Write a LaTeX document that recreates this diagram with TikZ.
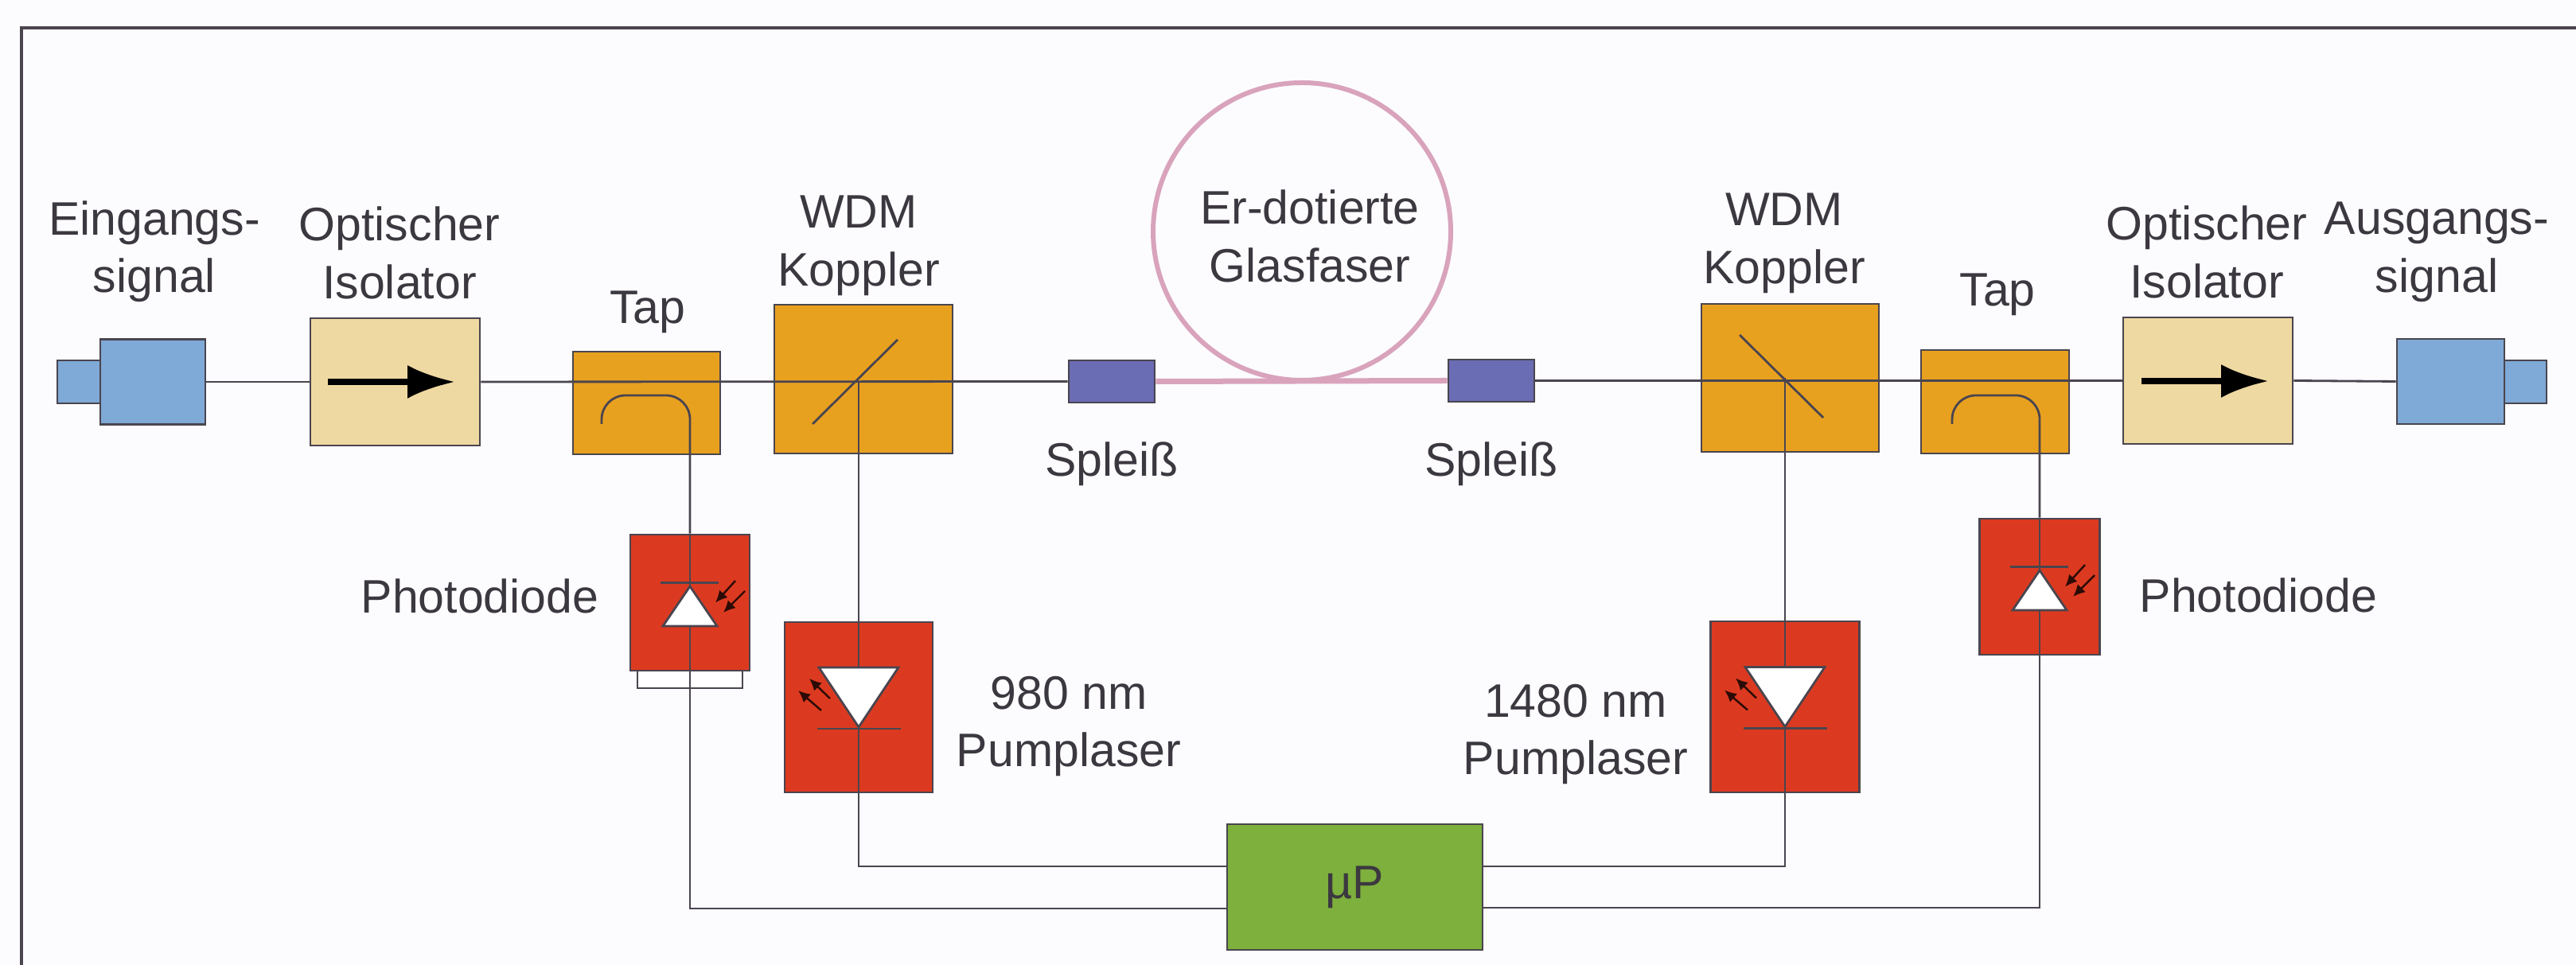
\documentclass[tikz,border=0pt]{standalone}
\usepackage{xcolor}
\usepackage{fontspec}
\setmainfont{Liberation Sans}
\usetikzlibrary{arrows.meta}
\tikzset{>=latex}
\definecolor{wirecol}{HTML}{4A454F}
\definecolor{textcol}{HTML}{3C3840}
\definecolor{bluecol}{HTML}{7FA9D6}
\definecolor{isocol}{HTML}{EFD9A2}
\definecolor{orangecol}{HTML}{E8A11F}
\definecolor{redcol}{HTML}{DC3A20}
\definecolor{greencol}{HTML}{7DB03C}
\definecolor{splicecol}{HTML}{6A6CB4}
\definecolor{fibrecol}{HTML}{D9A3BC}
\tikzstyle{box}=[draw=wirecol,line width=0.8pt,inner sep=0,rectangle]
\tikzstyle{wire}=[wirecol,line width=0.8pt]
\tikzstyle{fibre}=[fibrecol,line width=0.07cm]
\tikzstyle{lbl}=[text=textcol,align=center,inner sep=0,font=\fontsize{16.8}{20.6}\selectfont]
\tikzstyle{isoarrow}=[black,line width=0.08cm,-{Latex[length=0.6cm,width=0.42cm]}]
\tikzstyle{photon}=[black!80!redcol,line width=0.7pt,-{Latex[length=0.15cm,width=0.14cm]}]
% diode symbols sit on top of the wires
\newcommand{\pdiode}[1]{
  \begin{scope}[shift={(#1.center)}]
    \draw[wire,fill=white] (0,0.205) -- (-0.34,-0.295) -- (0.34,-0.295) -- cycle;
    \draw[wire] (-0.37,0.25) -- (0.36,0.25);
    \draw[photon] (0.57,0.275) -- (0.32,0.0);
    \draw[photon] (0.69,0.145) -- (0.42,-0.125);
  \end{scope}
}
\newcommand{\plaser}[1]{
  \begin{scope}[shift={(#1.center)}]
    \draw[wire,fill=white] (-0.5,0.5) -- (0.5,0.5) -- (0,-0.25) -- cycle;
    \draw[wire] (-0.52,-0.27) -- (0.53,-0.27);
    \draw[photon] (-0.36,0.11) -- (-0.62,0.36);
    \draw[photon] (-0.47,-0.04) -- (-0.76,0.21);
  \end{scope}
}

\begin{document}
\begin{tikzpicture}
    \useasboundingbox (0,0) rectangle (32.37,12.13);
    \fill[blue!1!white] (0,0) rectangle (32.37,12.13);
    \coordinate (frameL) at (0.27,0);
    \coordinate (frameR) at (32.37,11.78);
    \draw[wirecol,line width=0.04cm] (frameL) |- (frameR);

    % boxes along the fibre
    \node[box,fill=bluecol,minimum width=0.54cm,minimum height=0.54cm] (inS) at (0.99,7.33) {};
    \node[box,fill=bluecol,minimum width=1.32cm,minimum height=1.07cm] (inB) at (1.92,7.33) {};
    \node[box,fill=isocol,minimum width=2.13cm,minimum height=1.60cm] (iso1) at (4.965,7.33) {};
    \node[box,fill=orangecol,minimum width=1.85cm,minimum height=1.29cm] (tap1) at (8.125,7.065) {};
    \node[box,fill=orangecol,minimum width=2.24cm,minimum height=1.87cm] (wdm1) at (10.85,7.365) {};
    \node[box,fill=splicecol,minimum width=1.08cm,minimum height=0.53cm] (spl1) at (13.97,7.335) {};
    \node[box,fill=splicecol,minimum width=1.08cm,minimum height=0.53cm] (spl2) at (18.74,7.345) {};
    \node[box,fill=orangecol,minimum width=2.23cm,minimum height=1.86cm] (wdm2) at (22.495,7.38) {};
    \node[box,fill=orangecol,minimum width=1.86cm,minimum height=1.30cm] (tap2) at (25.07,7.08) {};
    \node[box,fill=isocol,minimum width=2.13cm,minimum height=1.59cm] (iso2) at (27.745,7.345) {};
    \node[box,fill=bluecol,minimum width=0.53cm,minimum height=0.54cm] (outS) at (31.735,7.33) {};
    \node[box,fill=bluecol,minimum width=1.35cm,minimum height=1.07cm] (outB) at (30.795,7.335) {};

    % diodes and controller
    \node[box,fill=white,minimum width=1.32cm,minimum height=0.28cm] (pdw) at (8.67,3.62) {};
    \node[box,fill=redcol,minimum width=1.50cm,minimum height=1.71cm] (pd1) at (8.67,4.555) {};
    \node[box,fill=redcol,minimum width=1.86cm,minimum height=2.14cm] (pump1) at (10.79,3.24) {};
    \node[box,fill=redcol,minimum width=1.87cm,minimum height=2.15cm] (pump2) at (22.43,3.245) {};
    \node[box,fill=redcol,minimum width=1.51cm,minimum height=1.71cm] (pd2) at (25.63,4.755) {};
    \node[box,fill=greencol,minimum width=3.21cm,minimum height=1.58cm,lbl] (up) at (17.025,0.98) {µP};

    \coordinate (upL1) at (15.42,1.24);
    \coordinate (upL2) at (15.42,0.71);
    \coordinate (upR1) at (18.63,1.24);
    \coordinate (upR2) at (18.63,0.72);
    \coordinate (wdm1x) at (10.79,7.33);
    \coordinate (wdm2x) at (22.43,7.38);
    \coordinate (tap1end) at (7.56,6.80);
    \coordinate (tap1top) at (8.67,7.16);
    \coordinate (tap2end) at (24.53,6.80);
    \coordinate (tap2top) at (25.63,7.16);

    % the fibre
    \node[circle,draw=fibrecol,line width=0.06cm,minimum size=3.74cm,inner sep=0] (coil) at (16.36,9.22) {};
    \draw[fibre] (spl1.east) -- (spl2.west);
    \draw[wire] (inB.east) -- (iso1.west);
    \draw[wire] (iso1.east) -- (spl1.west);
    \draw[wire] (spl2.east) -- (iso2.west);
    \draw[wire] (iso2.east) -- (outB.west);

    % tap and pump lines
    \draw[wire,rounded corners=0.3cm] (tap1end) |- (tap1top) -- (pd1.north);
    \draw[wire] (pd1.north) -- (pdw.south);
    \draw[wire] (pdw.south) |- (upL2);
    \draw[wire,rounded corners=0.3cm] (tap2end) |- (tap2top) -- (pd2.north);
    \draw[wire] (pd2.north) -- (pd2.south);
    \draw[wire] (pd2.south) |- (upR2);
    \draw[wire] (wdm1x) -- (pump1.north);
    \draw[wire] (pump1.north) -- (pump1.south);
    \draw[wire] (pump1.south) |- (upL1);
    \draw[wire] (wdm2x) -- (pump2.north);
    \draw[wire] (pump2.north) -- (pump2.south);
    \draw[wire] (pump2.south) |- (upR1);

    % beam splitters
    \coordinate (wdm1a) at (10.21,6.80);
    \coordinate (wdm1b) at (11.28,7.86);
    \coordinate (wdm2a) at (21.86,7.92);
    \coordinate (wdm2b) at (22.91,6.88);
    \draw[wire] (wdm1a) -- (wdm1b);
    \draw[wire] (wdm2a) -- (wdm2b);

    % isolator arrows
    \coordinate (iso1a) at (4.12,7.33);
    \coordinate (iso1b) at (5.72,7.33);
    \coordinate (iso2a) at (26.91,7.34);
    \coordinate (iso2b) at (28.51,7.34);
    \draw[isoarrow] (iso1a) -- (iso1b);
    \draw[isoarrow] (iso2a) -- (iso2b);

    \pdiode{pd1}
    \pdiode{pd2}
    \plaser{pump1}
    \plaser{pump2}

    % labels
    \node[lbl] (lblin) at (1.94,8.97) {Eingangs-\\signal};
    \node[lbl] (lbliso1) at (5.02,8.95) {Optischer\\Isolator};
    \node[lbl] (lbltap1) at (8.14,8.21) {Tap};
    \node[lbl] (lblwdm1) at (10.79,9.04) {WDM\\Koppler};
    \node[lbl] (lblcoil) at (16.46,9.16) {Er-dotierte\\Glasfaser};
    \node[lbl] (lblspl1) at (13.97,6.30) {Spleiß};
    \node[lbl] (lblspl2) at (18.74,6.30) {Spleiß};
    \node[lbl] (lblwdm2) at (22.42,9.07) {WDM\\Koppler};
    \node[lbl] (lbltap2) at (25.10,8.43) {Tap};
    \node[lbl] (lbliso2) at (27.73,8.96) {Optischer\\Isolator};
    \node[lbl] (lblout) at (30.62,8.96) {Ausgangs-\\signal};
    \node[lbl] (lblpd1) at (6.03,4.64) {Photodiode};
    \node[lbl] (lblpd2) at (28.38,4.65) {Photodiode};
    \node[lbl] (lblpump1) at (13.43,3.00) {980 nm\\Pumplaser};
    \node[lbl] (lblpump2) at (19.80,2.90) {1480 nm\\Pumplaser};
\end{tikzpicture}
\end{document}
